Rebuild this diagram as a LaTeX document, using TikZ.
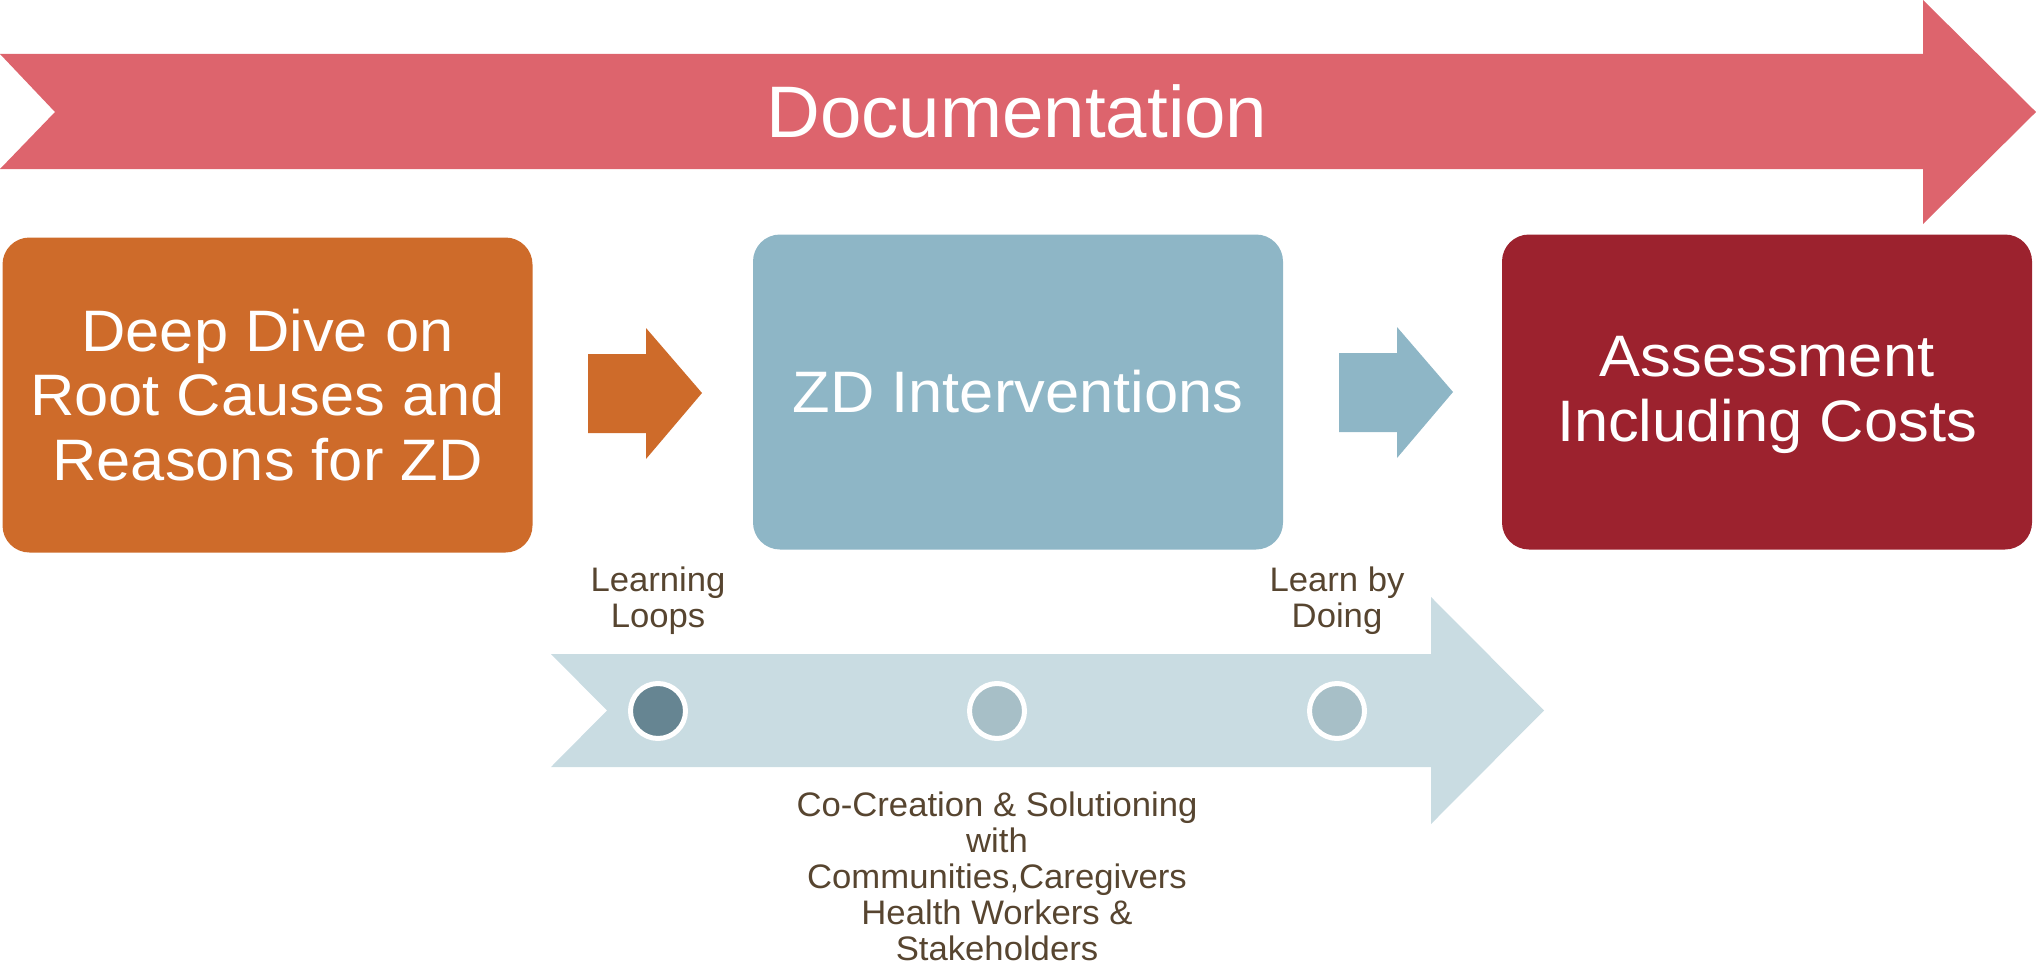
\documentclass[tikz,border=0pt]{standalone}
\usepackage{fontspec}
\setmainfont{Liberation Sans}
\newfontfamily\widesans[FakeStretch=1.05]{Liberation Sans}
\newfontfamily\lightwide[FakeStretch=1.02]{Liberation Sans}
\definecolor{docred}{HTML}{DD646D}
\definecolor{deeporange}{HTML}{CE6B2A}
\definecolor{zdblue}{HTML}{8EB6C6}
\definecolor{assessred}{HTML}{9C222E}
\definecolor{loopblue}{HTML}{C9DCE2}
\definecolor{dotdark}{HTML}{668592}
\definecolor{dotlight}{HTML}{A7BFC7}
\definecolor{brownText}{HTML}{574530}
\begin{document}
\begin{tikzpicture}[x=1pt,y=-1pt,
  stagebox/.style={rounded corners=27pt, minimum width=530pt, minimum height=315pt, inner sep=0pt, text=white, align=center, font=\widesans\fontsize{58.5}{64.5}\selectfont},
  dot/.style={circle, draw=white, line width=5pt, minimum size=55pt, inner sep=0pt},
  smalltext/.style={text=brownText, align=center, inner sep=0pt, font=\lightwide\fontsize{34}{36}\selectfont}]
\useasboundingbox (0,0) rectangle (2036,966);
% Documentation arrow
\fill[docred] (0,54) -- (1923,54) -- (1923,0) -- (2036,112) -- (1923,224) -- (1923,169) -- (0,169) -- (55,112) -- cycle;
\node[text=white, inner sep=0pt, font=\lightwide\fontsize{73}{80}\selectfont] (doc) at (1017,111) {Documentation};
% stage boxes
\node[stagebox, fill=deeporange] (deep) at (267.5,395) {Deep Dive on\\Root Causes and\\Reasons for ZD};
\node[stagebox, fill=zdblue] (zd) at (1018,392) {ZD Interventions};
\node[stagebox, fill=assessred] (assess) at (1767,392) {};
\node[text=white, align=center, inner sep=0pt, font=\widesans\fontsize{58.5}{64.5}\selectfont] (assesstext) at (1767,395) {Assessment\\Including Costs};
% small arrows
\fill[deeporange] (588,354) -- (646,354) -- (646,328) -- (702,393) -- (646,459) -- (646,433) -- (588,433) -- cycle;
\fill[zdblue] (1339,353) -- (1397,353) -- (1397,327) -- (1453,392) -- (1397,458) -- (1397,432) -- (1339,432) -- cycle;
% bottom arrow
\fill[loopblue] (551,654) -- (1431,654) -- (1431,597) -- (1544,710.5) -- (1431,824) -- (1431,767) -- (551,767) -- (607,710.5) -- cycle;
\node[dot, fill=dotdark] (d1) at (658,711) {};
\node[dot, fill=dotlight] (d2) at (997,711) {};
\node[dot, fill=dotlight] (d3) at (1337,711) {};
% labels
\node[smalltext] (loops) at (658,601) {Learning\\Loops};
\node[smalltext] (doing) at (1337,601) {Learn by\\Doing};
\node[smalltext] (cocreation) at (997,876) {Co-Creation \& Solutioning\\with\\Communities,Caregivers\\Health Workers \&\\Stakeholders};
\end{tikzpicture}
\end{document}
